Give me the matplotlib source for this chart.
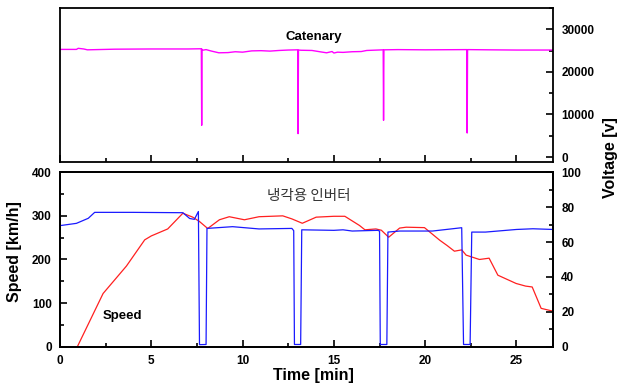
import numpy as np
import matplotlib
matplotlib.use("Agg")
import matplotlib.pyplot as plt
from matplotlib.ticker import MultipleLocator

plt.rcParams['font.family'] = ['Liberation Sans', 'DejaVu Sans']

# catenary voltage [V] vs time [min]
cat_t = [0.0, 0.9, 1.0, 1.3, 1.5, 3.0, 5.0, 7.0, 7.74, 7.76, 7.78, 7.80, 8.0, 8.3, 8.7, 9.2, 9.6, 10.0,
         10.5, 11.0, 11.5, 12.0, 12.5, 13.02, 13.04, 13.06, 13.2, 13.8, 14.3, 14.6, 14.9, 15.0, 15.2,
         15.5, 16.0, 16.5, 16.8, 17.70, 17.72, 17.74, 18.5, 20.0, 22.28, 22.30, 22.32, 23.5, 25.0, 27.0]
cat_v = [25300, 25300, 25550, 25400, 25200, 25350, 25400, 25400, 25450, 7460, 25350, 25100, 25250,
         24900, 24500, 24550, 24750, 24650, 24950, 25000, 24900, 25050, 25150, 25200, 5500, 25150,
         25100, 25050, 24700, 24500, 24800, 24450, 24650, 24600, 24750, 24800, 25050, 25200, 8640,
         25200, 25250, 25200, 25250, 5650, 25250, 25200, 25150, 25150]

# train speed [km/h]
spd_t = [0.0, 0.95, 2.36, 3.64, 4.64, 5.0, 5.9, 6.73, 7.27, 7.64, 8.09, 8.73, 9.27, 10.1, 10.9, 12.2,
         12.7, 13.27, 14.03, 15.0, 15.6, 16.4, 16.7, 17.3, 17.6, 18.0, 18.6, 18.96, 19.96, 20.8, 21.2,
         21.6, 22.0, 22.24, 22.97, 23.5, 23.98, 24.98, 25.5, 25.86, 26.35, 26.95, 27.0]
spd_v = [0, 0, 122, 185, 245, 254, 270, 306, 297, 287, 271, 291, 298, 291, 298, 300,
         293, 283, 297, 299, 299, 278, 268, 270, 267, 251, 272, 274, 273, 244, 232,
         219, 222, 210, 200, 203, 164, 145, 139, 137, 88, 82, 82]

# cooling inverter voltage (right axis, 0-100)
inv_t = [0.0, 0.9, 1.55, 1.9, 4.0, 6.73, 7.1, 7.36, 7.58, 7.64, 8.0, 8.05, 9.45, 10.9, 12.7, 12.8,
         12.84, 13.18, 13.24, 15.0, 15.5, 16.0, 17.4, 17.5, 17.54, 17.9, 17.96, 18.6, 20.4, 22.0,
         22.1, 22.46, 22.55, 23.3, 25.0, 25.9, 27.0]
inv_v = [69.4, 70.7, 73.6, 77.0, 77.0, 76.8, 73.5, 73.0, 77.5, 1.2, 1.3, 67.8, 68.8, 67.5, 67.8, 66.5,
         1.3, 1.3, 67.0, 66.7, 67.0, 66.3, 66.7, 66.3, 1.3, 1.3, 65.7, 66.3, 66.3, 68.2,
         1.3, 1.3, 65.7, 65.7, 67.2, 67.6, 67.2]

fig = plt.figure(figsize=(6.19, 3.87), dpi=100)
ax1 = fig.add_axes([0.0969, 0.581, 0.7965, 0.398])
ax2 = fig.add_axes([0.0969, 0.104, 0.7965, 0.451])

# top panel: catenary voltage
ax1.plot(cat_t, cat_v, color='#ff00ff', lw=1.0)
ax1.set_xlim(0, 27)
ax1.set_ylim(-1200, 35000)
ax1.yaxis.tick_right()
ax1.yaxis.set_major_locator(MultipleLocator(10000))
ax1.yaxis.set_minor_locator(MultipleLocator(5000))
ax1.xaxis.set_major_locator(MultipleLocator(5))
ax1.xaxis.set_minor_locator(MultipleLocator(2.5))
ax1.tick_params(axis='both', which='both', direction='in', width=1.2)
ax1.tick_params(axis='both', which='major', length=5)
ax1.tick_params(axis='both', which='minor', length=3)
ax1.tick_params(axis='x', labelbottom=False)
ax1.tick_params(axis='y', left=False, right=True, labelright=True, labelleft=False, pad=6)
for lab in ax1.get_yticklabels():
    lab.set_fontsize(8.5)
    lab.set_fontweight('bold')
ax1.text(13.9, 28300, 'Catenary', fontsize=9.5, fontweight='bold', ha='center', va='center')

# bottom panel: speed + inverter
ax2.plot(spd_t, spd_v, color='#ff2020', lw=0.9)
ax2.set_xlim(0, 27)
ax2.set_ylim(0, 400)
ax2r = ax2.twinx()
ax2r.plot(inv_t, inv_v, color='#1a1aff', lw=0.9)
ax2r.set_ylim(0, 100)

ax2.xaxis.set_major_locator(MultipleLocator(5))
ax2.xaxis.set_minor_locator(MultipleLocator(2.5))
ax2.yaxis.set_major_locator(MultipleLocator(100))
ax2.yaxis.set_minor_locator(MultipleLocator(50))
ax2r.yaxis.set_major_locator(MultipleLocator(20))
ax2r.yaxis.set_minor_locator(MultipleLocator(10))
for a in (ax2, ax2r):
    a.tick_params(axis='both', which='both', direction='in', width=1.2)
    a.tick_params(axis='both', which='major', length=5, labelsize=8.5, pad=6)
    a.tick_params(axis='both', which='minor', length=3)
ax2.tick_params(axis='y', right=False)
for lab in ax2.get_xticklabels() + ax2.get_yticklabels() + ax2r.get_yticklabels():
    lab.set_fontweight('bold')

ax2.text(2.35, 71, 'Speed', fontsize=9.5, fontweight='bold', va='center')
ax2.text(13.6, 346, '냉각용 인버터', fontsize=10.5, color='#333333', ha='center', va='center',
         family=['Noto Sans CJK KR', 'DejaVu Sans'])

for a in (ax1, ax2, ax2r):
    for s in a.spines.values():
        s.set_linewidth(1.3)

fig.text(0.023, 0.349, 'Speed [km/h]', rotation=90, ha='center', va='center',
         fontsize=11.5, fontweight='bold')
fig.text(0.506, 0.031, 'Time [min]', ha='center', va='center', fontsize=11.5, fontweight='bold')
fig.text(0.987, 0.592, 'Voltage [v]', rotation=90, ha='center', va='center',
         fontsize=11.5, fontweight='bold')

fig.savefig('out.png', dpi=100)
